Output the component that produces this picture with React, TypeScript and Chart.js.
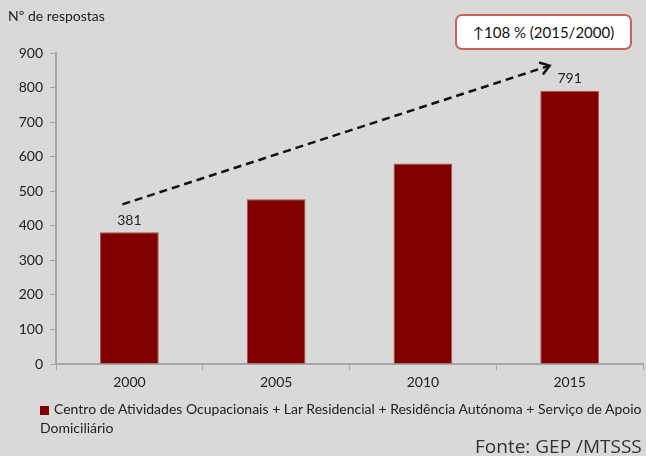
import React, { useEffect, useRef } from "react";
import { Chart, registerables } from "chart.js";

Chart.register(...registerables);

const categories = ["2000", "2005", "2010", "2015"];
const values = [381, 477, 580, 791];
const labeledIndices = [0, 3];
const yMax = 900;
const yStep = 100;
const seriesLabel =
  "Centro de Atividades Ocupacionais + Lar Residencial + Residência Autónoma + Serviço de Apoio Domiciliário";
const yTitle = "Nº de respostas";
const annotationText = "↑108 % (2015/2000)";
const sourceText = "Fonte: GEP /MTSSS";

const FONT = "Lato, 'Open Sans', sans-serif";
const BAR = "#800000";

const overlayPlugin = {
  id: "overlay",
  afterDatasetsDraw(chart: any) {
    const ctx = chart.ctx;
    const meta = chart.getDatasetMeta(0);
    ctx.save();
    ctx.fillStyle = "#222";
    ctx.font = `14px ${FONT}`;
    ctx.textAlign = "center";
    ctx.textBaseline = "bottom";
    labeledIndices.forEach((i) => {
      const el = meta.data[i];
      ctx.fillText(String(values[i]), el.x, el.y - 5);
    });
    const a = meta.data[labeledIndices[0]];
    const b = meta.data[labeledIndices[1]];
    const x1 = a.x - 7, y1 = a.y - 28;
    const x2 = b.x - 20, y2 = b.y - 25;
    ctx.strokeStyle = "#111";
    ctx.lineWidth = 2.5;
    ctx.setLineDash([8, 5]);
    ctx.beginPath();
    ctx.moveTo(x1, y1);
    ctx.lineTo(x2, y2);
    ctx.stroke();
    ctx.setLineDash([]);
    const ang = Math.atan2(y2 - y1, x2 - x1);
    const L = 11;
    ctx.beginPath();
    ctx.moveTo(x2 - L * Math.cos(ang - 0.6), y2 - L * Math.sin(ang - 0.6));
    ctx.lineTo(x2, y2);
    ctx.lineTo(x2 - L * Math.cos(ang + 0.6), y2 - L * Math.sin(ang + 0.6));
    ctx.stroke();
    ctx.restore();
  },
};

export default function App() {
  const ref = useRef<HTMLCanvasElement>(null);
  useEffect(() => {
    if (!ref.current) return;
    const chart = new Chart(ref.current, {
      type: "bar",
      data: {
        labels: categories,
        datasets: [
          {
            label: seriesLabel,
            data: values,
            backgroundColor: BAR,
            borderColor: "#b05050",
            borderWidth: 1,
            categoryPercentage: 0.8,
            barPercentage: 0.5,
          },
        ],
      },
      options: {
        responsive: false,
        animation: false,
        events: [],
        layout: { padding: { top: 53, right: 3, left: 0, bottom: 0 } },
        plugins: { legend: { display: false }, tooltip: { enabled: false } },
        scales: {
          x: {
            grid: {
              offset: true,
              drawOnChartArea: false,
              tickLength: 6,
              color: "#a6a6a6",
            },
            border: { color: "#a6a6a6", width: 2 },
            ticks: { color: "#222", font: { family: FONT, size: 14 }, padding: 4 },
            afterFit: (s: any) => {
              s.height = 456 - 364;
            },
          },
          y: {
            min: 0,
            max: yMax,
            ticks: {
              stepSize: yStep,
              color: "#222",
              font: { family: FONT, size: 14 },
              padding: 7,
            },
            grid: { drawOnChartArea: false, tickLength: 6, color: "#a6a6a6" },
            border: { color: "#a6a6a6", width: 2 },
            afterFit: (s: any) => {
              s.width = 56;
            },
          },
        },
      },
      plugins: [overlayPlugin],
    });
    return () => chart.destroy();
  }, []);

  return (
    <div
      style={{
        position: "fixed",
        left: 0,
        top: 0,
        width: 646,
        height: 456,
        background: "#d9d9d9",
        overflow: "hidden",
        fontFamily: FONT,
      }}
    >
      <canvas ref={ref} width={646} height={456} style={{ display: "block", width: 646, height: 456 }} />
      <div style={{ position: "absolute", left: 8, top: 7, fontSize: 14, color: "#222" }}>{yTitle}</div>
      <div
        style={{
          position: "absolute",
          left: 455,
          top: 14,
          width: 177,
          height: 36,
          boxSizing: "border-box",
          border: "2px solid #c9625f",
          borderRadius: 7,
          background: "#fff",
          display: "flex",
          alignItems: "center",
          justifyContent: "center",
          fontSize: 15,
          color: "#111",
        }}
      >
        {annotationText}
      </div>
      <div
        style={{
          position: "absolute",
          left: 40,
          top: 399,
          width: 602,
          fontSize: 14,
          lineHeight: "19px",
          color: "#222",
        }}
      >
        <span
          style={{
            display: "inline-block",
            width: 9,
            height: 9,
            background: BAR,
            marginRight: 5,
            verticalAlign: "-1px",
          }}
        />
        {seriesLabel}
      </div>
      <div
        style={{
          position: "absolute",
          left: 475,
          top: 434,
          fontSize: 19,
          color: "#333",
          fontFamily: "'Open Sans', sans-serif",
          whiteSpace: "nowrap",
          lineHeight: "24px",
        }}
      >
        {sourceText}
      </div>
    </div>
  );
}
